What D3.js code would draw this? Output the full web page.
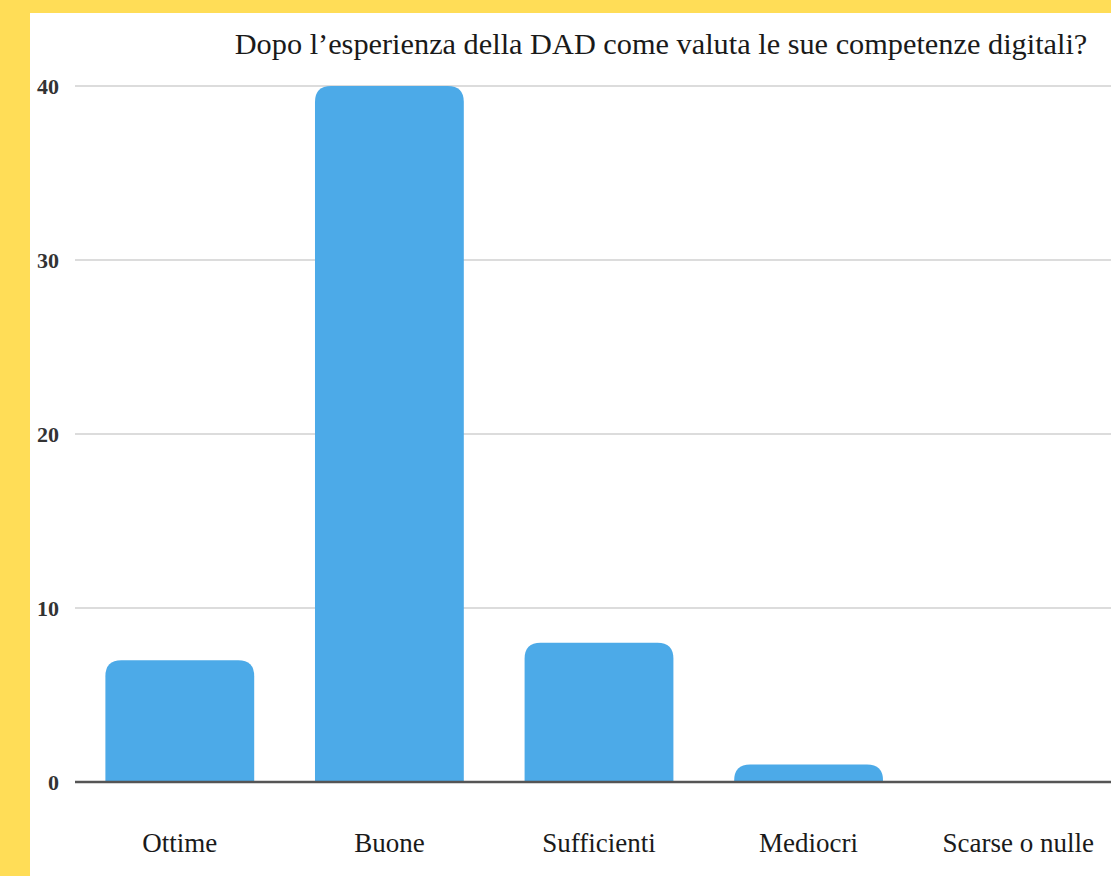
<!DOCTYPE html>
<html>
<head>
<meta charset="utf-8">
<script src="https://cdn.jsdelivr.net/npm/d3@7"></script>
<style>
  html, body { margin: 0; padding: 0; background: #FFDD57; }
  svg { display: block; }
  text { font-family: "Liberation Serif", "Times New Roman", serif; }
</style>
</head>
<body>
<svg id="chart" width="1111" height="876"></svg>
<script>
const title = "Dopo l\u2019esperienza della DAD come valuta le sue competenze digitali?";
const categories = ["Ottime", "Buone", "Sufficienti", "Mediocri", "Scarse o nulle"];
const values = [7, 40, 8, 1, 0];
const yTicks = [0, 10, 20, 30, 40];

const svg = d3.select("#chart");
const W = 1111, H = 876;

// yellow frame + white panel
svg.append("rect").attr("x", 0).attr("y", 0).attr("width", W).attr("height", H).attr("fill", "#FFDD57");
svg.append("rect").attr("x", 30).attr("y", 13).attr("width", W - 30).attr("height", H - 13).attr("fill", "#ffffff");

const x = d3.scaleBand().domain(categories).range([75, 1123]).paddingInner(0.29).paddingOuter(0.145);
const y = d3.scaleLinear().domain([0, 40]).range([782, 86]);

// gridlines
svg.append("g").selectAll("line").data(yTicks.filter(d => d !== 0)).join("line")
  .attr("x1", 75).attr("x2", W)
  .attr("y1", d => y(d)).attr("y2", d => y(d))
  .attr("stroke", "#dcdcdc").attr("stroke-width", 2);

// y tick labels
svg.append("g").selectAll("text").data(yTicks).join("text")
  .attr("x", 59).attr("y", d => y(d)).attr("dy", "0.35em")
  .attr("text-anchor", "end")
  .attr("font-weight", "bold").attr("font-size", 22)
  .attr("fill", "#333")
  .text(d => d);

// bars with rounded top corners
function barPath(x0, w, yTop, yBase, r) {
  const h = yBase - yTop;
  if (h <= 0) return "";
  r = Math.min(r, h, w / 2);
  return `M${x0},${yBase} L${x0},${yTop + r} Q${x0},${yTop} ${x0 + r},${yTop} L${x0 + w - r},${yTop} Q${x0 + w},${yTop} ${x0 + w},${yTop + r} L${x0 + w},${yBase} Z`;
}
svg.append("g").selectAll("path").data(categories).join("path")
  .attr("d", (c, i) => barPath(x(c), x.bandwidth(), y(values[i]), y(0), 16))
  .attr("fill", "#4CAAE8");

// baseline
svg.append("line").attr("x1", 75).attr("x2", W).attr("y1", y(0)).attr("y2", y(0))
  .attr("stroke", "#555").attr("stroke-width", 2.5);

// category labels
svg.append("g").selectAll("text").data(categories).join("text")
  .attr("x", c => x(c) + x.bandwidth() / 2).attr("y", 852)
  .attr("text-anchor", "middle")
  .attr("font-size", 27)
  .attr("fill", "#1a1a1a")
  .text(c => c);

// title
const t = svg.append("text")
  .attr("x", 661).attr("y", 54)
  .attr("text-anchor", "middle")
  .attr("font-size", 100)
  .attr("fill", "#1a1a1a")
  .text(title);
const len = t.node().getComputedTextLength();
t.attr("font-size", 100 * 853 / len);
</script>
</body>
</html>
